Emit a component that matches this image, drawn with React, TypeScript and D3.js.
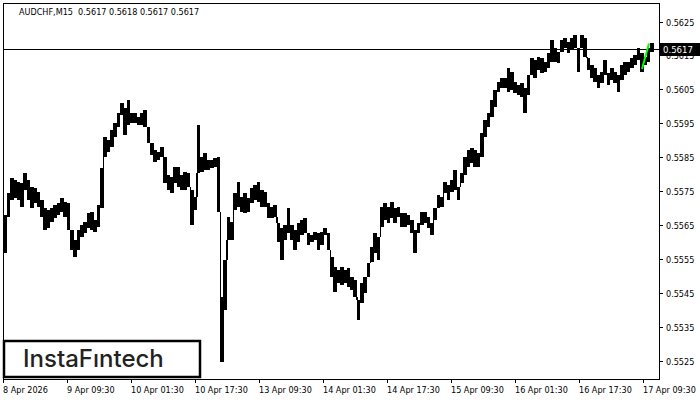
import React from "react";
import * as d3 from "d3";

const symbolTitle = "AUDCHF,M15";
const titleOHLC = [0.5617, 0.5618, 0.5617, 0.5617];
const lastPrice = 0.5617;

const highs = [
  0.55679,0.55744,0.55788,0.55782,0.55777,0.55774,0.55803,0.55782,0.55762,0.55759,
  0.55747,0.55723,0.55700,0.55694,0.55700,0.55709,0.55715,0.55729,0.55718,0.55715,
  0.55635,0.55605,0.55635,0.55650,0.55659,0.55685,0.55688,0.55664,0.55709,0.55818,
  0.55909,0.55900,0.55930,0.55951,0.55980,0.56010,0.55995,0.56018,0.55980,0.55980,
  0.55968,0.55980,0.55989,0.55939,0.55892,0.55871,0.55865,0.55880,0.55850,0.55797,
  0.55791,0.55821,0.55821,0.55797,0.55806,0.55803,0.55753,0.55732,0.55945,0.55850,
  0.55862,0.55841,0.55841,0.55847,0.55850,0.55437,0.55546,0.55673,0.55659,0.55744,
  0.55777,0.55732,0.55744,0.55729,0.55759,0.55768,0.55777,0.55753,0.55747,0.55715,
  0.55703,0.55709,0.55656,0.55641,0.55650,0.55700,0.55650,0.55635,0.55656,0.55664,
  0.55670,0.55626,0.55620,0.55629,0.55626,0.55629,0.55641,0.55626,0.55555,0.55526,
  0.55517,0.55526,0.55517,0.55523,0.55496,0.55487,0.55428,0.55479,0.55496,0.55538,
  0.55585,0.55626,0.55614,0.55703,0.55715,0.55703,0.55718,0.55700,0.55703,0.55685,
  0.55685,0.55679,0.55664,0.55635,0.55656,0.55688,0.55688,0.55673,0.55656,0.55700,
  0.55738,0.55732,0.55777,0.55768,0.55782,0.55812,0.55762,0.55803,0.55850,0.55871,
  0.55877,0.55871,0.55862,0.55921,0.55959,0.55980,0.56018,0.56048,0.56072,0.56083,
  0.56083,0.56113,0.56101,0.56072,0.56063,0.56069,0.56054,0.56092,0.56142,0.56136,
  0.56145,0.56142,0.56131,0.56157,0.56195,0.56172,0.56160,0.56195,0.56201,0.56190,
  0.56201,0.56210,0.56172,0.56210,0.56201,0.56142,0.56122,0.56113,0.56092,0.56101,
  0.56136,0.56098,0.56113,0.56101,0.56092,0.56122,0.56131,0.56131,0.56142,0.56151,
  0.56172,0.56157,0.56145,0.56172,0.56187,
];

const lows = [
  0.55567,0.55673,0.55723,0.55729,0.55723,0.55703,0.55753,0.55723,0.55700,0.55715,
  0.55703,0.55673,0.55635,0.55641,0.55659,0.55670,0.55679,0.55688,0.55673,0.55635,
  0.55576,0.55555,0.55576,0.55614,0.55626,0.55641,0.55635,0.55629,0.55644,0.55700,
  0.55850,0.55865,0.55880,0.55909,0.55939,0.55974,0.55915,0.55945,0.55951,0.55951,
  0.55945,0.55945,0.55939,0.55892,0.55856,0.55835,0.55841,0.55850,0.55774,0.55753,
  0.55744,0.55774,0.55762,0.55753,0.55753,0.55762,0.55650,0.55694,0.55803,0.55806,
  0.55812,0.55812,0.55818,0.55821,0.55688,0.55246,0.55399,0.55605,0.55605,0.55694,
  0.55703,0.55688,0.55685,0.55688,0.55715,0.55723,0.55718,0.55703,0.55703,0.55670,
  0.55670,0.55673,0.55600,0.55546,0.55605,0.55626,0.55605,0.55576,0.55600,0.55620,
  0.55626,0.55591,0.55600,0.55605,0.55576,0.55591,0.55620,0.55576,0.55496,0.55452,
  0.55479,0.55473,0.55479,0.55467,0.55458,0.55437,0.55369,0.55420,0.55449,0.55496,
  0.55541,0.55567,0.55546,0.55644,0.55664,0.55656,0.55670,0.55656,0.55673,0.55644,
  0.55644,0.55650,0.55626,0.55567,0.55626,0.55650,0.55656,0.55641,0.55620,0.55664,
  0.55700,0.55703,0.55744,0.55723,0.55747,0.55753,0.55723,0.55774,0.55797,0.55821,
  0.55833,0.55821,0.55821,0.55850,0.55909,0.55939,0.55968,0.55998,0.56042,0.56054,
  0.56054,0.56042,0.56048,0.56039,0.56033,0.56027,0.55980,0.56033,0.56092,0.56083,
  0.56107,0.56098,0.56101,0.56113,0.56131,0.56131,0.56128,0.56160,0.56172,0.56157,
  0.56166,0.56172,0.56101,0.56172,0.56145,0.56107,0.56083,0.56072,0.56054,0.56069,
  0.56092,0.56063,0.56077,0.56069,0.56042,0.56077,0.56092,0.56101,0.56113,0.56122,
  0.56136,0.56101,0.56122,0.56131,0.56160,
];

// green pattern segment: [sample index, price]
const greenSegment: [number, number][] = [
  [191.6, 0.5611],
  [193.7, 0.56185],
];

const priceTicks = [0.5525, 0.5535, 0.5545, 0.5555, 0.5565, 0.5575, 0.5585, 0.5595, 0.5605, 0.5615, 0.5625];
const timeLabels = [
  "8 Apr 2026", "9 Apr 09:30", "10 Apr 01:30", "10 Apr 17:30", "13 Apr 09:30",
  "14 Apr 01:30", "14 Apr 17:30", "15 Apr 09:30", "16 Apr 01:30", "16 Apr 17:30", "17 Apr 09:30",
];
const barsPerLabel = 64; // M15 bars between labels (16 h)
const totalBars = 650;
const logoText = "InstaF\u0131ntech";

const W = 700, H = 400;
const L = 3, R = 659, T = 3, B = 379;
const FONT = "'DejaVu Sans Condensed', 'DejaVu Sans', Tahoma, sans-serif";

export default function App() {
  const n = highs.length;
  const x = d3.scaleLinear().domain([0, n]).range([L + 1 / 3, L + 1 / 3 + 650]);
  const xb = d3.scaleLinear().domain([0, totalBars]).range([L, L + 650]);
  const y = d3.scaleLinear().domain([0.5525, 0.5625]).range([360.5, 21.5]);
  const fmt = d3.format(".4f");
  const green = d3.line<[number, number]>().x((d) => x(d[0])).y((d) => y(d[1]));

  // connectors where consecutive ranges do not overlap
  const connectors: { i: number; top: number; bottom: number }[] = [];
  for (let i = 1; i < n; i++) {
    if (lows[i] > highs[i - 1]) connectors.push({ i, top: lows[i], bottom: highs[i - 1] });
    else if (highs[i] < lows[i - 1]) connectors.push({ i, top: lows[i - 1], bottom: highs[i] });
  }
  const py = Math.round(y(lastPrice));

  return (
    <svg width={W} height={H} style={{ position: "absolute", left: 0, top: 0, background: "#fff" }}
      fontFamily={FONT}>
      <rect x={0} y={0} width={W} height={H} fill="#fff" />
      {/* bars */}
      <g shapeRendering="crispEdges" fill="#000">
        {highs.map((h, i) => (
          <rect key={i} x={x(i)} width={x(i + 1) - x(i) + 0.4} y={y(h)} height={Math.max(1, y(lows[i]) - y(h))} />
        ))}
        {connectors.map((c) => (
          <rect key={"c" + c.i} x={x(c.i) - 0.5} width={1.5} y={y(c.top)} height={y(c.bottom) - y(c.top)} />
        ))}
      </g>
      {/* last price line */}
      <line x1={L} x2={R} y1={py + 0.5} y2={py + 0.5} stroke="#000" strokeWidth={1} shapeRendering="crispEdges" />
      <path d={green(greenSegment) || ""} stroke="#00ff00" strokeWidth={2} fill="none" />
      {/* frame */}
      <rect x={L + 0.5} y={T + 0.5} width={R - L} height={B - T} fill="none" stroke="#000" strokeWidth={1} shapeRendering="crispEdges" />
      {/* title */}
      <text x={19} y={15} fontSize={9} fill="#000">
        {symbolTitle + "\u00a0\u00a0" + titleOHLC.map(fmt).join(" ")}
      </text>
      {/* price axis */}
      <g fontSize={9} fill="#000">
        {priceTicks.map((p) => {
          const yy = Math.round(y(p)) + 0.5;
          return (
            <g key={p}>
              <line x1={R} x2={R + 4} y1={yy} y2={yy} stroke="#000" shapeRendering="crispEdges" />
              <text x={666} y={yy + 3.5}>{fmt(p)}</text>
            </g>
          );
        })}
      </g>
      {/* last price label */}
      <rect x={660} y={py - 6} width={40} height={13} fill="#000" />
      <text x={663} y={py + 4} fontSize={9.5} fill="#fff">{fmt(lastPrice)}</text>
      {/* time axis */}
      <g fontSize={9} fill="#000">
        {timeLabels.map((t, i) => {
          const xx = Math.round(xb(i * barsPerLabel)) + 0.5;
          return (
            <g key={t}>
              <line x1={xx} x2={xx} y1={B} y2={B + 4} stroke="#000" shapeRendering="crispEdges" />
              <text x={xx - 0.5} y={393}>{t}</text>
            </g>
          );
        })}
      </g>
      {/* logo */}
      <rect x={4} y={341} width={196} height={36} fill="#fff" stroke="#000" strokeWidth={2.5} />
      <text x={23} y={367} fontFamily="Inter, Roboto, sans-serif" fontWeight={500} fontSize={24} fill="#222">
        {logoText}
      </text>
    </svg>
  );
}
